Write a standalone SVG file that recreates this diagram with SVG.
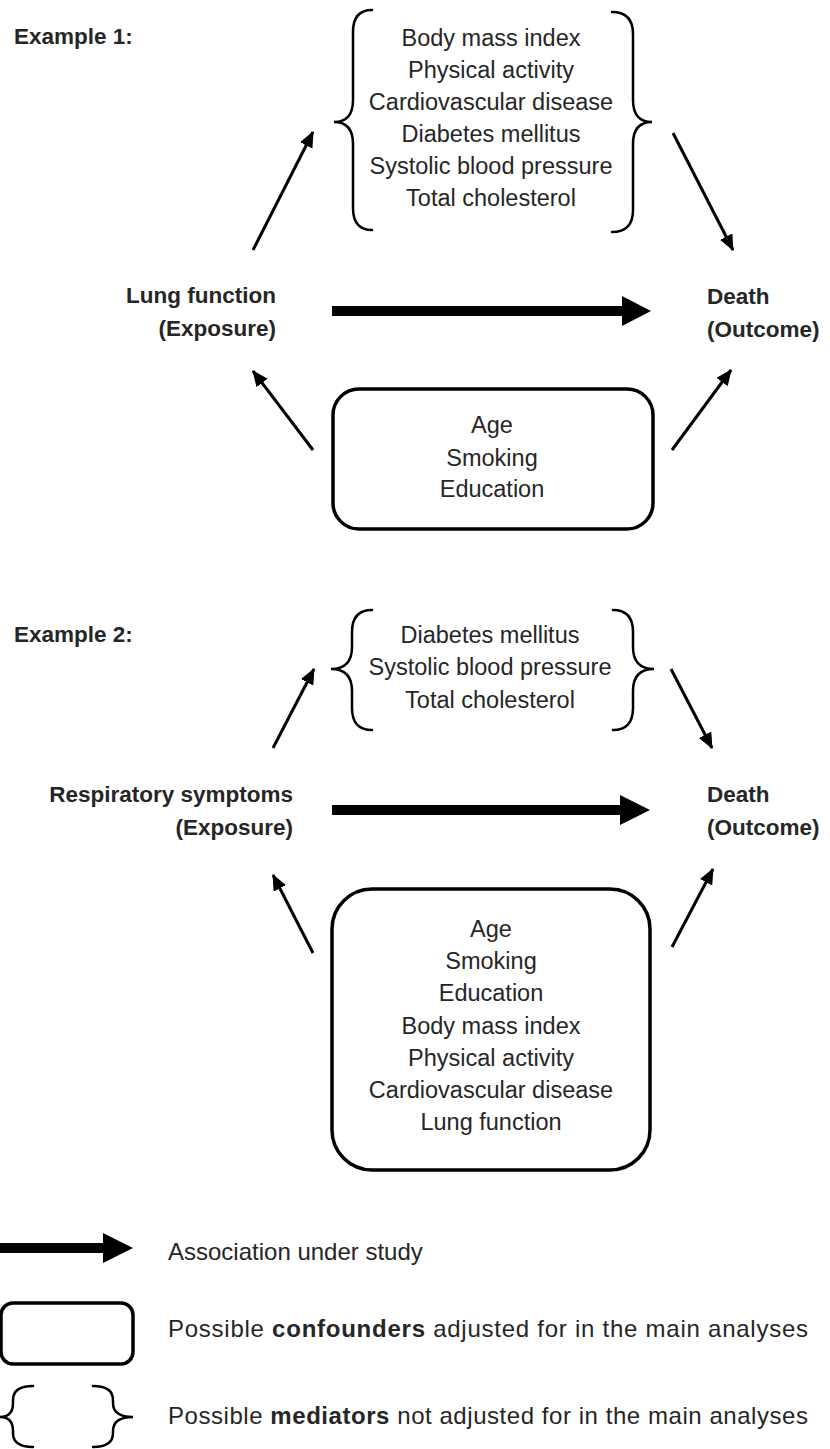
<svg xmlns="http://www.w3.org/2000/svg" width="830" height="1449" viewBox="0 0 830 1449">
<style>
  text { font-family: "Liberation Sans", Arial, sans-serif; fill: #262626; }
  .t { font-size: 23.5px; text-anchor: middle; }
  .b { font-size: 22.5px; font-weight: bold; }
  .lg { font-size: 24px; }
  .brace { fill: none; stroke: #000; stroke-width: 2.5; stroke-linecap: round; }
  .box { fill: none; stroke: #000; stroke-width: 3.5; }
  .thin { stroke: #000; stroke-width: 3; fill: none; marker-end: url(#ah); }
  .thick { fill: #000; }
</style>
<defs>
  <marker id="ah" markerUnits="userSpaceOnUse" markerWidth="18" markerHeight="16" refX="15" refY="7" orient="auto">
    <path d="M0,0 L16,7 L0,14 Z" fill="#000"/>
  </marker>
</defs>
<rect width="830" height="1449" fill="#fff"/>

<!-- Example 1 -->
<text class="b" x="14" y="44">Example 1:</text>

<g id="ex1-mediators">
  <path class="brace" d="M372,10 Q353,10 353,32 L353,100 Q353,122 334,122 Q353,122 353,144 L353,208 Q353,230 372,230"/>
  <path class="brace" d="M612,12 Q633,12 633,34 L633,100 Q633,122 652,122 Q633,122 633,144 L633,210 Q633,232 612,232"/>
  <text class="t" x="491" y="46">Body mass index</text>
  <text class="t" x="491" y="78">Physical activity</text>
  <text class="t" x="491" y="110">Cardiovascular disease</text>
  <text class="t" x="491" y="142">Diabetes mellitus</text>
  <text class="t" x="491" y="174">Systolic blood pressure</text>
  <text class="t" x="491" y="206">Total cholesterol</text>
</g>

<g id="ex1-exposure">
  <text class="b" x="276" y="303" text-anchor="end">Lung function</text>
  <text class="b" x="276" y="336" text-anchor="end">(Exposure)</text>
</g>

<g id="ex1-outcome">
  <text class="b" x="707" y="304">Death</text>
  <text class="b" x="707" y="337">(Outcome)</text>
</g>

<g id="ex1-confounders">
  <rect class="box" x="333" y="389" width="320" height="140" rx="26" ry="26"/>
  <text class="t" x="492" y="433">Age</text>
  <text class="t" x="492" y="466">Smoking</text>
  <text class="t" x="492" y="497">Education</text>
</g>

<!-- Example 2 -->
<text class="b" x="14" y="642">Example 2:</text>

<g id="ex2-mediators">
  <path class="brace" d="M372,610 Q352,610 352,632 L352,647 Q352,669 331,669 Q352,669 352,691 L352,708 Q352,730 372,730"/>
  <path class="brace" d="M613,610 Q633,610 633,632 L633,647 Q633,669 654,669 Q633,669 633,691 L633,708 Q633,730 613,730"/>
  <text class="t" x="490" y="643">Diabetes mellitus</text>
  <text class="t" x="490" y="675">Systolic blood pressure</text>
  <text class="t" x="490" y="708">Total cholesterol</text>
</g>

<g id="ex2-exposure">
  <text class="b" x="293" y="802" text-anchor="end">Respiratory symptoms</text>
  <text class="b" x="293" y="835" text-anchor="end">(Exposure)</text>
</g>

<g id="ex2-outcome">
  <text class="b" x="707" y="802">Death</text>
  <text class="b" x="707" y="835">(Outcome)</text>
</g>

<g id="ex2-confounders">
  <rect class="box" x="332" y="889" width="318" height="281" rx="40" ry="40"/>
  <text class="t" x="491" y="937">Age</text>
  <text class="t" x="491" y="969">Smoking</text>
  <text class="t" x="491" y="1001">Education</text>
  <text class="t" x="491" y="1034">Body mass index</text>
  <text class="t" x="491" y="1066">Physical activity</text>
  <text class="t" x="491" y="1098">Cardiovascular disease</text>
  <text class="t" x="491" y="1130">Lung function</text>
</g>

<g id="connectors">
  <!-- Example 1 -->
  <path class="thick" d="M332,306 L622,306 L622,296 L651,311 L622,326 L622,316 L332,316 Z"/>
  <line class="thin" x1="253" y1="250" x2="313" y2="132"/>
  <line class="thin" x1="673" y1="133" x2="733" y2="250"/>
  <line class="thin" x1="313" y1="450" x2="253" y2="371"/>
  <line class="thin" x1="672" y1="450" x2="731" y2="370"/>
  <!-- Example 2 -->
  <path class="thick" d="M332,805 L620,805 L620,795 L650,810 L620,825 L620,815 L332,815 Z"/>
  <line class="thin" x1="273" y1="748" x2="314" y2="669"/>
  <line class="thin" x1="671" y1="669" x2="712" y2="748"/>
  <line class="thin" x1="313" y1="953" x2="273" y2="875"/>
  <line class="thin" x1="672" y1="947" x2="713" y2="869"/>
</g>

<!-- Legend -->
<g id="legend-arrow">
  <path class="thick" d="M0,1243 L103,1243 L103,1233 L133,1248 L103,1263 L103,1253 L0,1253 Z"/>
  <text class="lg" x="168" y="1260">Association under study</text>
</g>
<g id="legend-box">
  <rect class="box" x="1" y="1303" width="132" height="61" rx="12" ry="12"/>
  <text class="lg" x="168" y="1337" textLength="640" lengthAdjust="spacing">Possible <tspan font-weight="bold">confounders</tspan> adjusted for in the main analyses</text>
</g>
<g id="legend-brace">
  <path class="brace" d="M33,1386 Q13,1386 13,1400 L13,1403 Q13,1417 0,1417 Q13,1417 13,1431 L13,1433 Q13,1447 33,1447"/>
  <path class="brace" d="M93,1386 Q113,1386 113,1400 L113,1403 Q113,1417 133,1417 Q113,1417 113,1431 L113,1433 Q113,1447 93,1447"/>
  <text class="lg" x="168" y="1424" textLength="640" lengthAdjust="spacing">Possible <tspan font-weight="bold">mediators</tspan> not adjusted for in the main analyses</text>
</g>
</svg>
